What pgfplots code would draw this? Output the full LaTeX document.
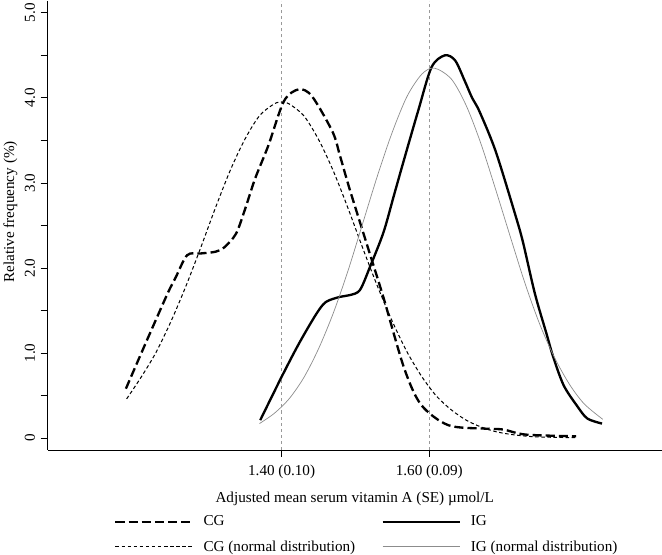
\documentclass[border=0pt]{standalone}
\usepackage{fontspec}
\setmainfont{Liberation Serif}
\usepackage{pgfplots}
\pgfplotsset{compat=1.18}

\begin{document}
\begin{tikzpicture}
\begin{axis}[
    scale only axis,
    width=607pt, height=444pt,
    xmin=1.0832, xmax=1.9147,
    ymin=-0.14, ymax=5.14,
    axis x line*=bottom, axis y line*=left,
    axis line style={-, line width=0.8pt},
    tick align=outside,
    major tick length=7pt,
    tick style={black, line width=0.8pt},
    font=\fontsize{15}{18}\selectfont,
    /pgf/number format/assume math mode=true,
    xtick={1.40,1.60},
    xticklabels={1.40 (0.10), 1.60 (0.09)},
    xticklabel style={yshift=-4pt},
    ytick={0,0.5,1,1.5,2,2.5,3,3.5,4,4.5,5},
    yticklabels={0,,1.0,,2.0,,3.0,,4.0,,5.0},
    yticklabel style={rotate=90, anchor=south, yshift=2pt},
    xlabel={Adjusted mean serum vitamin A (SE) µmol/L},
    ylabel={Relative frequency (\%)},
    xlabel style={at={(axis description cs:0.5,-0.110)}, anchor=center},
    ylabel style={at={(axis description cs:-0.061,0.53)}, anchor=center},
    legend columns=2,
    legend cell align=left,
    legend style={draw=none, fill=none, inner sep=0pt, at={(axis description cs:0.108,-0.142)}, anchor=north west,
        row sep=9pt, /tikz/every even column/.append style={column sep=24pt},
        /tikz/every odd column/.append style={column sep=8pt}},
    legend image code/.code={\draw[#1] (0pt,0pt) -- (76pt,0pt);},
]
% reference lines at the two adjusted means
\addplot[forget plot, black!40, line width=0.6pt, dash pattern=on 3pt off 3pt] coordinates {(1.40,-0.14)(1.40,5.14)};
\addplot[forget plot, black!40, line width=0.6pt, dash pattern=on 3pt off 3pt] coordinates {(1.60,-0.14)(1.60,5.14)};

% CG
\addplot[black, line width=2.3pt, dash pattern=on 9pt off 4pt, smooth, tension=0.5] coordinates {
(1.189,0.58)(1.217,1.14)(1.2455,1.70)(1.256,1.88)(1.272,2.15)(1.29,2.17)(1.31,2.19)
(1.322,2.24)(1.338,2.40)(1.35,2.68)(1.364,3.05)(1.382,3.44)(1.403,3.96)(1.423,4.10)
(1.441,4.02)(1.469,3.60)(1.479,3.32)(1.492,2.93)(1.515,2.29)(1.538,1.65)(1.566,0.82)
(1.589,0.39)(1.626,0.15)(1.676,0.11)(1.70,0.10)(1.731,0.04)(1.799,0.02)};
% IG
\addplot[black, line width=2.3pt, smooth, tension=0.5] coordinates {
(1.371,0.21)(1.40,0.72)(1.4234,1.11)(1.447,1.46)(1.46,1.60)(1.479,1.66)(1.492,1.68)
(1.506,1.74)(1.52,2.02)(1.538,2.42)(1.552,2.85)(1.566,3.28)(1.585,3.85)(1.603,4.36)
(1.621,4.50)(1.635,4.44)(1.648,4.20)(1.658,4.00)(1.668,3.84)(1.690,3.37)(1.717,2.61)
(1.727,2.30)(1.743,1.70)(1.759,1.22)(1.768,0.95)(1.782,0.62)(1.80,0.38)(1.814,0.23)(1.834,0.17)};
% CG normal
\addplot[black, line width=1pt, dash pattern=on 3.5pt off 2.5pt, smooth] coordinates {
(1.19,0.46)(1.21,0.72)(1.23,1.01)(1.25,1.37)(1.27,1.78)(1.29,2.23)(1.31,2.70)(1.33,3.14)
(1.35,3.51)(1.37,3.79)(1.39,3.93)(1.40,3.95)(1.41,3.93)(1.43,3.79)(1.45,3.51)(1.47,3.14)
(1.49,2.70)(1.51,2.23)(1.53,1.78)(1.55,1.37)(1.57,1.01)(1.59,0.72)(1.61,0.49)(1.63,0.33)
(1.65,0.21)(1.67,0.13)(1.69,0.075)(1.71,0.043)(1.73,0.023)(1.75,0.012)(1.80,0.003)};
% IG normal
\addplot[black!45, line width=0.7pt, smooth] coordinates {
(1.37,0.17)(1.39,0.29)(1.41,0.46)(1.43,0.71)(1.45,1.05)(1.47,1.47)(1.49,1.97)(1.51,2.53)
(1.53,3.09)(1.55,3.60)(1.57,4.02)(1.59,4.28)(1.607,4.35)(1.63,4.22)(1.65,3.91)(1.67,3.46)
(1.69,2.92)(1.71,2.36)(1.73,1.81)(1.75,1.33)(1.77,0.94)(1.79,0.63)(1.81,0.40)(1.835,0.22)};
\legend{CG, IG, CG (normal distribution), IG (normal distribution)}
\end{axis}
\end{tikzpicture}
\end{document}
